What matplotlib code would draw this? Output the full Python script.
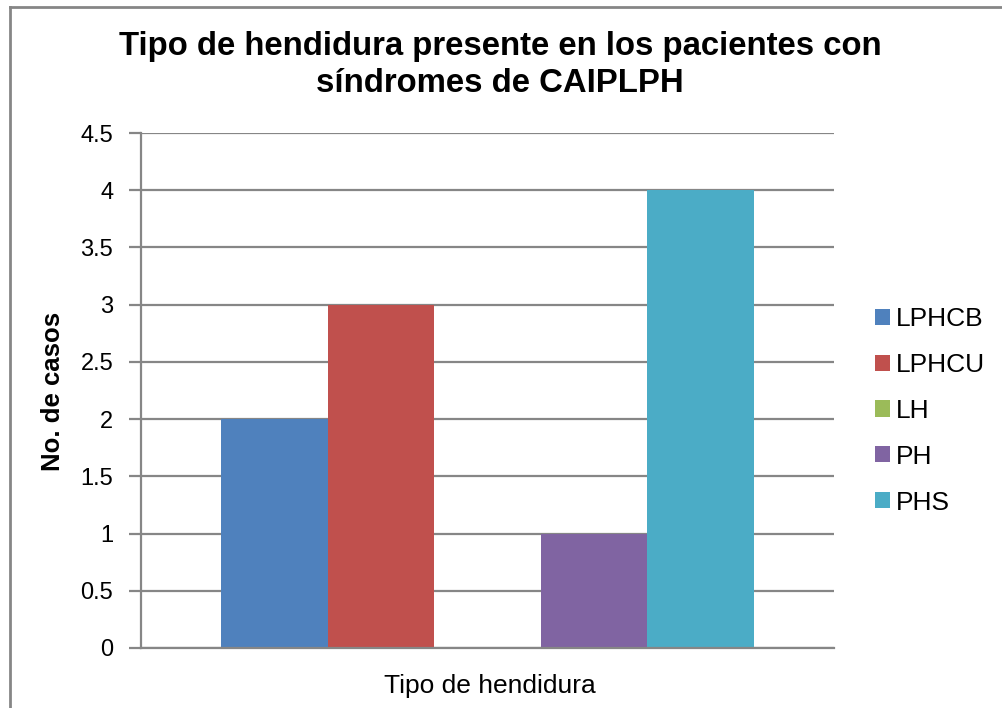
import matplotlib
matplotlib.use("Agg")
import matplotlib.pyplot as plt
from matplotlib.lines import Line2D
from matplotlib.patches import Patch

series = ["LPHCB", "LPHCU", "LH", "PH", "PHS"]
values = [2, 3, 0, 1, 4]
colors = ["#4F81BD", "#C0504D", "#9BBB59", "#8064A2", "#4BACC6"]
yticks = [0, 0.5, 1, 1.5, 2, 2.5, 3, 3.5, 4, 4.5]
ytick_labels = ["0", "0.5", "1", "1.5", "2", "2.5", "3", "3.5", "4", "4.5"]
title = "Tipo de hendidura presente en los pacientes con\nsíndromes de CAIPLPH"
xlabel = "Tipo de hendidura"
ylabel = "No. de casos"

plt.rcParams['font.family'] = ['Liberation Sans', 'DejaVu Sans']

W, H = 1002, 708
fig = plt.figure(figsize=(W / 100, H / 100), dpi=100)
L, R, B, T = 141, 834, 648, 133
ax = fig.add_axes([L / W, 1 - B / H, (R - L) / W, (B - T) / H])

grid_c = "#868686"
for i, (v, c) in enumerate(zip(values, colors)):
    ax.bar(i, v, width=1.0, color=c, label=series[i], zorder=3)

ax.set_xlim(-1.25, 5.25)
ax.set_ylim(0, 4.5)
ax.set_yticks(yticks)
ax.set_yticklabels(ytick_labels, fontsize=17)
ax.set_xticks([])
ax.yaxis.grid(True, color=grid_c, linewidth=1.6, zorder=0)
ax.tick_params(axis='y', length=9, width=1.6, color=grid_c, pad=11)
for s in ["top", "right"]:
    ax.spines[s].set_visible(False)
for s in ["left", "bottom"]:
    ax.spines[s].set_color(grid_c)
    ax.spines[s].set_linewidth(1.6)
    ax.spines[s].set_zorder(4)

fig.text(500 / W, 1 - 65 / H, title, ha="center", va="center",
         fontsize=23.7, fontweight="bold", linespacing=1.22)
fig.text(490 / W, 1 - 686 / H, xlabel, ha="center", va="center", fontsize=19)
fig.text(53 / W, 1 - 391 / H, ylabel, ha="center", va="center",
         fontsize=18.5, fontweight="bold", rotation=90)

handles = [Patch(facecolor=c, edgecolor="none") for c in colors]
leg = fig.legend(handles, series, loc="upper left",
                 bbox_to_anchor=(875 / W, 1 - 307 / H), frameon=False,
                 fontsize=19, handlelength=0.56, handleheight=0.56,
                 handletextpad=0.25, labelspacing=0.83, borderaxespad=0,
                 borderpad=0)

# chart border (top and left visible)
fig.add_artist(Line2D([9.5 / W, 9.5 / W], [0, 1 - 6.5 / H], transform=fig.transFigure,
                      color=grid_c, linewidth=2))
fig.add_artist(Line2D([9.5 / W, 1], [1 - 6.5 / H, 1 - 6.5 / H], transform=fig.transFigure,
                      color=grid_c, linewidth=2))

fig.savefig("out.png", dpi=100)
